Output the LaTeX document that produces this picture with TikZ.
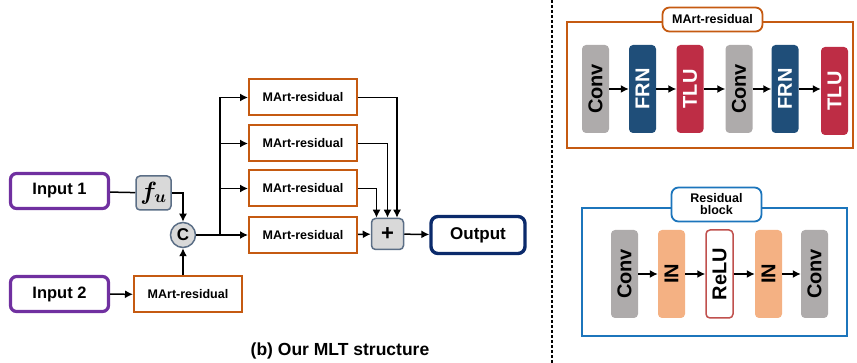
\documentclass[tikz,border=0pt]{standalone}
\usepackage{fontspec}
\usepackage{bm}
\setmainfont{Liberation Sans}
\usetikzlibrary{arrows.meta}

\definecolor{inpurple}{HTML}{7030A0}
\definecolor{martorange}{HTML}{C55A11}
\definecolor{outnavy}{HTML}{0B2A6B}
\definecolor{resblue}{HTML}{1C75BC}
\definecolor{convgray}{HTML}{AEABAB}
\definecolor{frnblue}{HTML}{1F4E79}
\definecolor{tlured}{HTML}{BE2D45}
\definecolor{inpeach}{HTML}{F4B183}
\definecolor{relured}{HTML}{C0504D}
\definecolor{opfill}{HTML}{D9D9D9}
\definecolor{opedge}{HTML}{5B6E86}

\begin{document}
\begin{tikzpicture}[x=1pt,y=-1pt,
  arr/.style={line width=1.5pt,-{Latex[length=8pt,width=8pt]}},
  link/.style={line width=1.5pt},
  inbox/.style={draw=inpurple,line width=3.2pt,rounded corners=6pt,minimum width=98pt,minimum height=35pt,
    font=\bfseries\fontsize{16.5}{18}\selectfont},
  mart/.style={draw=martorange,line width=2pt,fill=white,minimum width=108pt,minimum height=36pt,
    font=\bfseries\fontsize{12.5}{14}\selectfont},
  opbox/.style={draw=opedge,line width=1.5pt,fill=opfill,rounded corners=4pt},
  layer/.style={rotate=90,rounded corners=4pt,minimum width=88pt,minimum height=27pt,inner sep=0pt,
    font=\bfseries\fontsize{20}{22}\selectfont},
  tag/.style={fill=white,line width=1.8pt,rounded corners=7pt,align=center,
    font=\bfseries\fontsize{12.5}{14}\selectfont}]
\useasboundingbox (0,0) rectangle (857,363);

% ---------------- left: MLT structure ----------------
\node[inbox] (in1) at (59.5,191) {Input 1};
\node[inbox] (in2) at (59.5,294) {Input 2};
\node[opbox,minimum width=35pt,minimum height=34pt,inner sep=0pt,font=\fontsize{26}{28}\selectfont] (fu) at (153.5,193) {$\bm{f}_{\bm{u}}$};
\node[circle,draw=opedge,line width=1.5pt,fill=opfill,minimum size=25pt,inner sep=0pt,font=\bfseries\fontsize{17}{18}\selectfont] (cat) at (183,235) {C};
\node[mart] (mb) at (188,294.5) {MArt-residual};

\node[mart] (m1) at (303,97.5) {MArt-residual};
\node[mart] (m2) at (303,143.5) {MArt-residual};
\node[mart] (m3) at (303,188.5) {MArt-residual};
\node[mart] (m4) at (303,235) {MArt-residual};

\node[opbox,minimum width=32pt,minimum height=31pt,inner sep=0pt,font=\bfseries\fontsize{22}{22}\selectfont] (plus) at (387.5,234) {+};
\node[draw=outnavy,line width=3.4pt,rounded corners=7pt,minimum width=94pt,minimum height=37pt,font=\bfseries\fontsize{17}{19}\selectfont] (out) at (478,235) {Output};

\coordinate (br) at (220,235);

\draw[link] (in1) -- (fu);
\draw[arr] (fu.east) -| (cat.north);
\draw[arr] (in2) -- (mb);
\draw[arr] (mb.north -| cat) -- (cat.south);
\draw[arr] (cat) -- (m4);
\draw[arr] (br) |- (m1.west);
\draw[arr] (br) |- (m2.west);
\draw[arr] (br) |- (m3.west);
\draw[arr] (m1.east) -| ([xshift=9.5pt]plus.north);
\draw[arr] (m2.east) -| (plus.north);
\draw[arr] (m3.east) -| ([xshift=-11pt]plus.north);
\draw[arr] (m4) -- (plus);
\draw[arr] (plus) -- (out);

\node[font=\bfseries\fontsize{17.5}{19}\selectfont] (cap) at (340,351) {(b) Our MLT structure};

% separator
\draw[line width=1.5pt,dash pattern=on 3pt off 2pt] (552,0) -- (552,363);

% ---------------- right top: MArt-residual ----------------
\draw[draw=martorange,line width=2.6pt] (567,22) rectangle (853,148);
\node[tag,draw=martorange,minimum width=100pt,minimum height=24pt] (tm) at (712.5,19.5) {MArt-residual};

\node[layer,fill=convgray] (a1) at (595.5,89) {Conv};
\node[layer,fill=frnblue,text=white] (a2) at (642.5,89) {FRN};
\node[layer,fill=tlured,text=white] (a3) at (690,89) {TLU};
\node[layer,fill=convgray] (a4) at (739,89) {Conv};
\node[layer,fill=frnblue,text=white] (a5) at (785,89) {FRN};
\node[layer,fill=tlured,text=white] (a6) at (834.5,91) {TLU};
\foreach \p/\q in {a1/a2,a2/a3,a3/a4,a4/a5}
  \draw[arr] (\p) -- (\q);
\draw[arr] (a5.south) -- (a5.south -| a6.north);

% ---------------- right bottom: Residual block ----------------
\draw[draw=resblue,line width=2.6pt] (582,208) rectangle (847,336);
\node[tag,draw=resblue,minimum width=90pt,minimum height=34pt,inner sep=1pt] (tr) at (716.5,204.5) {Residual\\[-2pt]block};

\node[layer,fill=convgray] (b1) at (624.5,274) {Conv};
\node[layer,fill=inpeach] (b2) at (671.5,274) {IN};
\node[layer,fill=white,draw=relured,line width=1.5pt] (b3) at (719.5,274) {ReLU};
\node[layer,fill=inpeach] (b4) at (768.5,274) {IN};
\node[layer,fill=convgray] (b5) at (814.5,274) {Conv};
\foreach \p/\q in {b1/b2,b2/b3,b3/b4,b4/b5}
  \draw[arr] (\p) -- (\q);
\end{tikzpicture}
\end{document}
